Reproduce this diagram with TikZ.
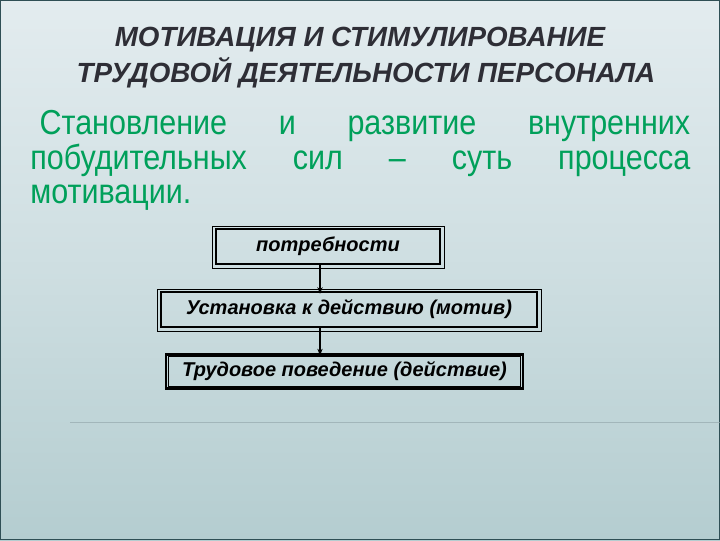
\documentclass[tikz,border=0pt]{standalone}
\usepackage{fontspec}
\setmainfont{Liberation Sans}
\usetikzlibrary{arrows.meta}

\definecolor{slidetop}{HTML}{E3ECEF}
\definecolor{slidebot}{HTML}{B4CDD0}
\definecolor{titlegrey}{HTML}{2E2E36}
\definecolor{textgreen}{HTML}{00A05A}

\tikzset{
  stagebox/.style={draw=black, line width=1.6pt, minimum height=26pt, inner sep=0pt,
    font=\fontsize{15}{17}\selectfont\bfseries\itshape},
  frameline/.style={draw=black, line width=0.5pt},
  linkarrow/.style={-{Stealth[length=5pt,width=4pt]}, line width=0.8pt}
}

\begin{document}
\begin{tikzpicture}[x=0.75pt,y=0.75pt,yscale=-1,xscale=1]
\useasboundingbox (0,0) rectangle (720,540);
%Shape: Background
\shade [top color=slidetop, bottom color=slidebot, middle color=slidetop!55!slidebot] (0,0) rectangle (720,540);
\draw [color={rgb, 255:red, 47; green, 79; blue, 85 }, line width=1] (0.5,0.5) rectangle (719.5,539.5);
%Straight Lines
\draw [color={rgb, 255:red, 150; green, 170; blue, 175 }, line width=0.6, opacity=0.7] (70,422) -- (720,422);

% Text Node
\node (title1) at (360,40) [color=titlegrey, font=\fontsize{20.8}{24}\selectfont\bfseries\itshape] {МОТИВАЦИЯ И СТИМУЛИРОВАНИЕ};
% Text Node
\node (title2) at (366,73) [color=titlegrey, font=\fontsize{20.8}{24}\selectfont\bfseries\itshape] {ТРУДОВОЙ ДЕЯТЕЛЬНОСТИ ПЕРСОНАЛА};
% Text Node
\node (lead) at (30,110) [anchor=north west, inner sep=0pt, text width=495pt, align=justify, color=textgreen,
  font=\addfontfeature{FakeStretch=0.88}\fontsize{26}{26}\selectfont]
  {\hspace*{7pt}Становление и развитие внутренних\linebreak побудительных сил -- суть процесса\linebreak мотивации.};

%Shape: Boxes
\node (need) at (328,246.5) [stagebox, minimum width=168pt] {потребности};
\node (motive) at (349,309.5) [stagebox, minimum width=282pt] {Установка к действию (мотив)};
\node (conduct) at (344.5,371.5) [stagebox, minimum width=267.75pt, line width=2.2pt] {Трудовое поведение (действие)};
\draw [frameline] ([shift={(-3,-2)}]need.north west) rectangle ([shift={(3,3)}]need.south east);
\draw [frameline] ([shift={(-3,-2)}]motive.north west) rectangle ([shift={(3,3)}]motive.south east);
\draw [frameline] ([shift={(4,4)}]conduct.north west) rectangle ([shift={(-4,-4)}]conduct.south east);

%Straight Lines
\coordinate (axis) at (320,0);
\draw [linkarrow] (need.south -| axis) -- ([yshift=2pt]motive.north -| axis);
\draw [linkarrow] (motive.south -| axis) -- ([yshift=2pt]conduct.north -| axis);
\end{tikzpicture}
\end{document}
